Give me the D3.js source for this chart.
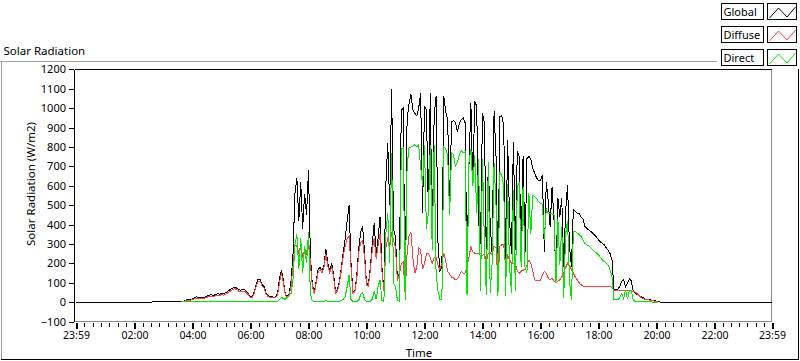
<!DOCTYPE html>
<html><head><meta charset="utf-8">
<script src="https://cdn.jsdelivr.net/npm/d3@7"></script>
<style>
html,body{margin:0;padding:0;background:#fff;}
svg{display:block;font-family:"Noto Sans",sans-serif;}
</style></head><body>
<svg id="chart" width="800" height="361"></svg>
<script>
// ---------- DATA ----------
const seriesNames = ["Global", "Diffuse", "Direct"];
const seriesColors = ["#000000", "#ff4040", "#00e800"];
const sampleStart = "03:36";   // time of first sample
const stepMinutes = 4;         // sampling interval
const nightValue = 0;          // radiation during the night
const dayStartMinute = -1;     // 23:59 previous day
const dayEndMinute = 1439;     // 23:59

const globalRad = [
  2,4,8,12,13,15,18,22,29,24,
  22,24,26,30,34,38,38,36,40,44,
  42,46,44,48,55,62,68,74,79,72,
  64,63,66,64,55,42,28,30,55,95,
  120,118,92,82,50,34,30,28,26,28,
  45,120,166,115,45,30,40,110,250,560,
  640,420,620,380,560,450,680,240,90,50,
  110,170,180,165,190,275,200,165,200,140,
  55,65,110,180,260,330,420,500,200,55,
  60,140,280,360,390,260,100,90,180,300,
  410,250,330,440,180,64,600,820,500,1100,
  373,340,115,150,990,1000,46,940,1020,1070,
  990,974,960,1000,1077,460,1010,990,480,1077,
  320,960,1060,300,160,180,1060,980,940,490,
  931,935,925,880,920,940,950,925,184,700,
  1026,600,1034,1010,420,300,974,923,218,716,
  400,250,983,750,115,957,960,906,184,837,
  424,250,828,270,780,751,287,751,260,740,
  751,740,690,665,640,625,625,656,260,620,
  520,390,596,424,115,536,440,536,184,470,
  605,287,184,480,470,459,459,440,430,390,
  380,373,365,356,345,336,321,310,304,296,
  280,268,250,218,64,66,68,80,107,119,
  80,100,120,110,55,46,40,35,28,24,
  17,15,14,12,10,8,5,3,1,0,
  0,0,0,0,0
];
const diffuseRad = [
  2,3,6,9,10,11,13,17,22,19,
  17,19,21,24,28,32,32,30,33,37,
  36,39,37,41,47,54,60,66,70,64,
  56,55,58,56,48,36,24,26,48,86,
  108,108,84,74,44,29,26,24,22,24,
  38,100,150,104,38,24,32,88,190,290,
  290,250,300,230,270,250,330,200,82,44,
  100,155,168,152,178,250,185,152,185,128,
  48,58,98,165,240,290,330,340,180,48,
  52,125,255,310,320,230,88,82,165,270,
  330,225,290,350,160,58,280,330,300,350,
  320,280,110,140,200,210,40,250,340,360,
  230,150,180,280,270,170,200,250,253,230,
  200,230,230,190,170,200,253,210,160,145,
  130,125,115,120,140,160,150,150,180,230,
  287,260,253,253,253,250,240,253,210,253,
  255,245,290,280,110,290,296,296,180,240,
  220,200,200,200,160,150,160,165,170,190,
  218,200,160,115,110,112,112,140,158,150,
  125,115,125,110,100,110,115,130,150,180,
  201,190,170,150,130,115,100,90,84,82,
  81,81,80,80,81,82,82,82,82,81,
  81,81,80,78,62,60,60,60,60,60,
  60,60,60,58,55,52,45,35,25,20,
  15,13,12,10,8,6,4,2
];
const directRad = [
  2,2,2,3,3,3,3,3,3,3,
  3,3,3,3,3,3,3,3,3,3,
  3,3,3,3,3,3,3,3,3,3,
  3,3,3,3,3,3,3,3,3,4,
  6,5,3,3,3,3,3,3,3,3,
  4,15,25,20,15,25,40,45,120,300,
  350,170,330,150,290,200,360,40,8,4,
  4,5,5,5,5,8,5,5,6,5,
  3,3,5,10,15,30,80,140,15,3,
  3,5,10,40,50,15,5,3,5,15,
  60,15,80,115,10,5,350,460,200,770,
  100,80,10,5,790,795,12,700,795,800,
  805,811,800,810,700,600,810,380,460,810,
  270,810,150,60,12,15,800,790,760,450,
  770,760,700,720,760,780,770,775,40,720,
  790,600,760,460,740,60,740,300,40,720,
  50,200,716,500,30,670,650,600,30,610,
  180,50,580,60,600,613,180,596,180,150,
  562,350,550,545,535,519,510,505,321,480,
  459,459,455,450,98,430,190,390,20,350,
  420,115,12,364,364,356,350,338,320,304,
  296,290,280,270,262,253,245,232,218,210,
  200,192,167,130,12,12,12,25,46,20,
  64,15,60,60,10,5,4,4,3,3,
  2,2,2,2,1,1,1,0
];

const xTickMinutes = [-1,120,240,360,480,600,720,840,960,1080,1200,1320,1439];
const xTickLabels = ["23:59","02:00","04:00","06:00","08:00","10:00","12:00","14:00","16:00","18:00","20:00","22:00","23:59"];
const yTicks = [-100,0,100,200,300,400,500,600,700,800,900,1000,1100,1200];
const chartTitle = "Solar Radiation";
const yTitle = "Solar Radiation (W/m2)";
const xTitle = "Time";

// ---------- LAYOUT ----------
const svg = d3.select("#chart");
const W = 800, H = 361;
const plot = {left: 76, right: 772, top: 69.3, bottom: 321.7};

const toMin = s => { const [h, m] = s.split(":").map(Number); return h * 60 + m; };
const t0 = toMin(sampleStart);

const x = d3.scaleLinear().domain([dayStartMinute, dayEndMinute]).range([plot.left, plot.right]);
const y = d3.scaleLinear().domain([-100, 1200]).range([plot.bottom, plot.top]);

svg.append("rect").attr("width", W).attr("height", H).attr("fill", "#fff");

// outer frame
const frame = svg.append("g").attr("shape-rendering", "crispEdges");
frame.append("line").attr("x1", 0).attr("x2", 717).attr("y1", 61.5).attr("y2", 61.5).attr("stroke", "#a0a0a0");
frame.append("line").attr("x1", 1.5).attr("x2", 1.5).attr("y1", 61.5).attr("y2", 359.5).attr("stroke", "#a0a0a0");
frame.append("line").attr("x1", 1).attr("x2", 799).attr("y1", 359.5).attr("y2", 359.5).attr("stroke", "#000");
frame.append("line").attr("x1", 798.5).attr("x2", 798.5).attr("y1", 61.5).attr("y2", 359.5).attr("stroke", "#000");

// title
svg.append("text").attr("x", 3.5).attr("y", 54.5).attr("font-size", "11.5px").attr("fill", "#000").text(chartTitle);

// plot border
const pb = svg.append("g").attr("shape-rendering", "crispEdges");
pb.append("line").attr("x1", 74.5).attr("x2", 771.5).attr("y1", 321.5).attr("y2", 321.5).attr("stroke", "#8a8a8a");
pb.append("line").attr("x1", 771.5).attr("x2", 771.5).attr("y1", 69.5).attr("y2", 321.5).attr("stroke", "#8a8a8a");
pb.append("line").attr("x1", 74.5).attr("x2", 772).attr("y1", 69.5).attr("y2", 69.5).attr("stroke", "#000");
pb.append("line").attr("x1", 74.5).attr("x2", 74.5).attr("y1", 69.5).attr("y2", 322).attr("stroke", "#000");

// y axis
const yAxis = d3.axisLeft(y).tickValues(yTicks).tickSize(5).tickPadding(3).tickFormat(d3.format("d"));
const gy = svg.append("g").attr("transform", "translate(74,0)").call(yAxis);
gy.select(".domain").remove();
gy.selectAll(".tick line").attr("stroke", "#000").attr("shape-rendering", "crispEdges");
gy.selectAll(".tick text").attr("font-family", "Noto Sans").attr("font-size", "11px").attr("fill", "#000");

// x axis major ticks
const xAxis = d3.axisBottom(x).tickValues(xTickMinutes).tickSize(6).tickPadding(3)
  .tickFormat((d, i) => xTickLabels[i]);
const gx = svg.append("g").attr("transform", "translate(0,322.5)").call(xAxis);
gx.select(".domain").remove();
gx.selectAll(".tick line").attr("stroke", "#000").attr("stroke-width", 2).attr("shape-rendering", "crispEdges");
gx.selectAll(".tick text").attr("font-family", "Noto Sans").attr("font-size", "10.5px").attr("fill", "#000");

// x axis minor ticks (6 between majors)
const minor = [];
for (let k = 0; k < xTickMinutes.length - 1; k++) {
  const a = xTickMinutes[k], b = xTickMinutes[k + 1];
  for (let j = 1; j <= 6; j++) minor.push(a + (b - a) * j / 7);
}
const gm = svg.append("g").attr("transform", "translate(0,322.5)").call(
  d3.axisBottom(x).tickValues(minor).tickSize(4).tickFormat(""));
gm.select(".domain").remove();
gm.selectAll(".tick line").attr("stroke", "#000").attr("shape-rendering", "crispEdges");

// axis titles
svg.append("text").attr("transform", "translate(35,184) rotate(-90)").attr("text-anchor", "middle")
  .attr("font-size", "11.5px").attr("fill", "#000").text(yTitle);
svg.append("text").attr("x", 419).attr("y", 356.5).attr("text-anchor", "middle")
  .attr("font-size", "11.5px").attr("fill", "#000").text(xTitle);

// data
svg.append("clipPath").attr("id", "clip").append("rect")
  .attr("x", 75).attr("y", 69).attr("width", 697).attr("height", 253);

const toPts = arr => arr.map((v, i) => [t0 + i * stepMinutes, v]);
const globalPts = [[dayStartMinute, nightValue]].concat(toPts(globalRad), [[dayEndMinute, nightValue]]);
const series = [globalPts, toPts(diffuseRad), toPts(directRad)];
const line = d3.line().x(d => x(d[0])).y(d => y(d[1]));
const gd = svg.append("g").attr("clip-path", "url(#clip)");
series.forEach((pts, k) => {
  gd.append("path").attr("d", line(pts)).attr("fill", "none")
    .attr("stroke", seriesColors[k]).attr("stroke-width", 1)
    .attr("shape-rendering", "crispEdges");
});

// legend
const lg = svg.append("g");
lg.append("rect").attr("x", 717).attr("y", 0).attr("width", 83).attr("height", 69).attr("fill", "#fff");
const rowTop = [3.5, 26.5, 49.5];
const zig = d3.line();
seriesNames.forEach((name, k) => {
  const ty = rowTop[k];
  lg.append("rect").attr("x", 721.5).attr("y", ty).attr("width", 42).attr("height", 16)
    .attr("fill", "#fff").attr("stroke", "#000").attr("shape-rendering", "crispEdges");
  lg.append("text").attr("x", 723.5).attr("y", ty + 12.5).attr("font-size", "11px").attr("fill", "#000").text(name);
  lg.append("rect").attr("x", 767.5).attr("y", ty).attr("width", 29).attr("height", 16)
    .attr("fill", "#fff").attr("stroke", "#000").attr("shape-rendering", "crispEdges");
  lg.append("path").attr("d", zig([[769.5, ty + 14.5], [778.5, ty + 4.5], [787, ty + 13.5], [795.5, ty + 3.5]]))
    .attr("fill", "none").attr("stroke", seriesColors[k]).attr("stroke-width", 1);
});
</script>
</body></html>
